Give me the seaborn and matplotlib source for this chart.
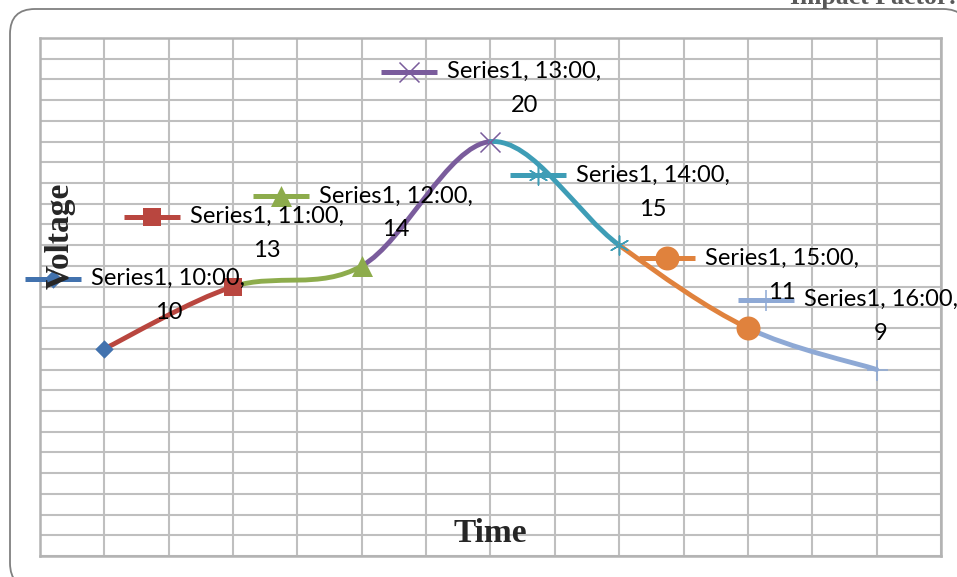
import matplotlib
matplotlib.use("Agg")
import numpy as np
import matplotlib.pyplot as plt
import seaborn as sns
from matplotlib.path import Path
from matplotlib.patches import PathPatch
from matplotlib.transforms import ScaledTranslation

# data
times = ["10:00", "11:00", "12:00", "13:00", "14:00", "15:00", "16:00"]
voltage = [10, 13, 14, 20, 15, 11, 9]
series_name = "Series1"

# per-point styling (Excel "vary colors by point")
point_colors = ["#4272AE", "#B9463F", "#8DAC4C", "#7A5C9C", "#3E9DB6", "#E0823D", "#8EA9D5"]
point_markers = ["D", "s", "^", "x", (6, 2, 0), "o", "+"]
marker_px = [13, 18, 21, 20, 19, 24, 21]
label_shift = [30, 0, 0, 0, 0, 0, -30]  # px, first/last label pushed inside the chart

sns.set_theme(style="whitegrid")
plt.rcParams["font.family"] = ["Lato", "DejaVu Sans"]

W, H, DPI = 957, 577, 100
fig = plt.figure(figsize=(W / DPI, H / DPI), dpi=DPI)
fig.patch.set_facecolor("white")
ax = fig.add_axes([40 / W, 21 / H, 901 / W, 518 / H])

xpos = np.arange(1, len(times) + 1)
pts = np.column_stack([xpos, voltage]).astype(float)
n = len(pts)

# smoothed line, one bezier per segment, coloured like the point it ends on
for i in range(n - 1):
    p_prev = pts[max(i - 1, 0)]
    p0, p1 = pts[i], pts[i + 1]
    p_next = pts[min(i + 2, n - 1)]
    c1 = p0 + (p1 - p_prev) / 6
    c2 = p1 - (p_next - p0) / 6
    path = Path([p0, c1, c2, p1], [Path.MOVETO, Path.CURVE4, Path.CURVE4, Path.CURVE4])
    ax.add_patch(PathPatch(path, fill=False, edgecolor=point_colors[i + 1],
                           lw=3.5, capstyle="round", zorder=3))

px2pt = 72 / DPI


def draw_marker(x, y, i, transform=None):
    m = point_markers[i]
    filled = m in ("D", "s", "^", "o")
    kws = dict(marker=m, color=point_colors[i], s=(marker_px[i] * px2pt) ** 2,
               zorder=5, clip_on=False, legend=False, ax=ax)
    if filled:
        kws.update(edgecolor=point_colors[i], linewidth=0)
    else:
        kws.update(linewidth=1.1)
    if transform is not None:
        kws["transform"] = transform
    sns.scatterplot(x=[x], y=[y], **kws)


for i in range(n):
    draw_marker(xpos[i], voltage[i], i)

# data labels with legend key
for i in range(n):
    sh = label_shift[i]
    key_tr = ax.transData + ScaledTranslation((-81 + sh) / DPI, 70 / DPI, fig.dpi_scale_trans)
    ax.plot([xpos[i]], [voltage[i]], marker="_", ms=56 * px2pt, mew=5 * px2pt,
            color=point_colors[i], transform=key_tr, clip_on=False, zorder=5,
            solid_capstyle="round")
    draw_marker(xpos[i], voltage[i], i, transform=key_tr)
    t1 = ax.annotate(f"{series_name}, {times[i]},", xy=(xpos[i], voltage[i]),
                     xytext=(-43 + sh, 70), textcoords="offset pixels",
                     ha="left", va="center", fontsize=17, color="black",
                     annotation_clip=False, zorder=6)
    ax.annotate(str(voltage[i]), xy=(0.5, 0.5), xycoords=t1,
                xytext=(0, -34), textcoords="offset pixels",
                ha="center", va="center", fontsize=17, color="black",
                annotation_clip=False, zorder=6)

ax.set_xlim(0.5, 7.5)
ax.set_ylim(0, 25)
ax.set_xticks(np.arange(0.5, 7.51, 0.5))
ax.set_yticks(np.arange(0, 26, 1))
ax.tick_params(labelbottom=False, labelleft=False, length=0)
ax.grid(True, color="#BFBFBF", lw=1.5)
ax.set_axisbelow(True)
ax.set_facecolor("white")
for sp in ax.spines.values():
    sp.set_color("#B3B3B3")
    sp.set_linewidth(1.8)
ax.set_xlabel("")
ax.set_ylabel("")

serif = ["Liberation Serif", "DejaVu Serif"]
ax.text(0.5, 0.0425, "Time", transform=ax.transAxes, ha="center", va="center",
        fontsize=24, fontweight="bold", family=serif, zorder=6)
ax.text(0.0228, 0.618, "Voltage", transform=ax.transAxes, ha="center", va="center",
        rotation=90, fontsize=24, fontweight="bold", family=serif, zorder=6)

# rounded frame of the chart object: only the left, top and corner parts
# fall inside the picture (pixel coords measured from the top-left)
fx0, fy0, fx1, fy1, r = 10, 9, 968, 588, 25
frame_px = [(fx0 + r, fy1), (fx0, fy1), (fx0, fy1 - r),
            (fx0, fy0 + r), (fx0, fy0), (fx0 + r, fy0),
            (fx1 - r, fy0), (fx1, fy0), (fx1, fy0 + r)]
frame_codes = [Path.MOVETO, Path.CURVE3, Path.CURVE3,
               Path.LINETO, Path.CURVE3, Path.CURVE3,
               Path.LINETO, Path.CURVE3, Path.CURVE3]
frame_path = Path([(px / W, 1 - py / H) for px, py in frame_px], frame_codes)
fig.add_artist(PathPatch(frame_path, transform=fig.transFigure, fill=False,
                         edgecolor="#808080", lw=1.3))
# header text of the page, cut off at the top
fig.text(790 / W, 1 - 4 / H, "Impact Factor:", ha="left", va="baseline",
         fontsize=18.5, fontweight="bold", family=serif, color="#595959")

fig.savefig("out.png", dpi=DPI)
